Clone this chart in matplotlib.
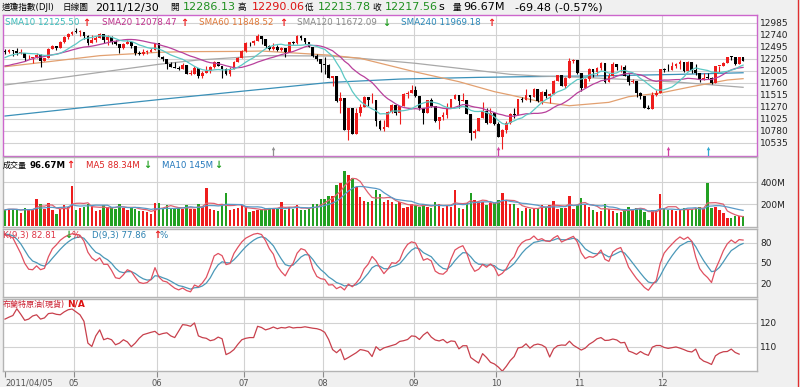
import numpy as np
import pandas as pd
import matplotlib
matplotlib.use("Agg")
import matplotlib.pyplot as plt
from matplotlib.lines import Line2D

plt.rcParams['font.family'] = ['DejaVu Sans', 'Noto Sans CJK TC']

# ---------------- data ----------------
pre_close = [12058, 12066, 12258, 12170, 12090, 12214, 12213, 11984, 12044, 11993, 11855, 11613,
             11775, 11858, 12036, 12018, 12086, 12171, 12221, 12198, 12280, 12350, 12320, 12377, 12400]

close = [
    # Apr
    12393.90, 12426.75, 12409.49, 12380.05, 12381.11, 12263.58, 12270.99, 12285.15, 12341.83, 12201.59,
    12266.75, 12453.54, 12505.99, 12479.88, 12595.37, 12690.96, 12763.31, 12810.54,
    # May
    12807.36, 12807.51, 12723.58, 12584.17, 12638.74, 12684.68, 12760.36, 12630.03, 12695.92, 12595.75,
    12548.37, 12479.58, 12560.18, 12605.32, 12512.04, 12381.26, 12356.21, 12394.66, 12402.76, 12441.58, 12569.79,
    # Jun
    12290.14, 12248.55, 12151.26, 12089.96, 12070.81, 12048.94, 12124.36, 11951.91, 11952.97, 12076.11,
    11897.27, 11961.52, 12004.36, 12080.38, 12190.01, 12109.67, 12050.00, 11934.58, 12043.56, 12188.69,
    12261.42, 12414.34,
    # Jul
    12582.77, 12569.87, 12626.02, 12719.49, 12657.20, 12505.76, 12446.88, 12491.61, 12437.12, 12479.73,
    12385.16, 12587.42, 12571.91, 12724.41, 12681.16, 12592.80, 12501.30, 12302.55, 12240.11, 12143.24,
    # Aug
    12132.49, 11866.62, 11896.44, 11383.68, 11444.61, 10809.85, 11239.77, 10719.94, 11143.31, 11269.02,
    11482.90, 11405.93, 11410.21, 10990.58, 10817.65, 10854.65, 11176.76, 11320.71, 11149.82, 11284.54,
    11539.25, 11559.95, 11613.53,
    # Sep
    11493.57, 11240.26, 11139.30, 11414.86, 11295.81, 10992.13, 11061.12, 11105.85, 11246.73, 11433.18,
    11509.09, 11401.01, 11408.66, 11124.84, 10733.83, 10771.48, 11043.86, 11190.69, 10938.08, 11153.98, 10913.38,
    # Oct
    10655.30, 10808.71, 10939.95, 11123.33, 11103.12, 11433.18, 11416.30, 11518.85, 11478.13, 11644.49,
    11397.00, 11577.05, 11504.62, 11541.78, 11808.79, 11913.62, 11706.62, 11869.04, 12208.55, 12231.11, 11955.01,
    # Nov
    11657.96, 11836.04, 12044.47, 11983.24, 12068.87, 12170.18, 11780.94, 11893.86, 12153.68, 12078.98,
    12096.16, 11905.59, 11770.73, 11796.16, 11547.31, 11493.72, 11257.55, 11231.78, 11523.01, 11555.63, 12045.68,
    # Dec
    12020.03, 12019.42, 12097.83, 12150.13, 12196.37, 11997.70, 12184.26, 12021.39, 11954.94, 11823.48,
    11868.81, 11866.39, 11766.26, 12103.58, 12107.74, 12169.65, 12294.00, 12291.35, 12151.41, 12287.04, 12217.56,
]

high = [
    12450, 12460, 12440, 12470, 12450, 12381, 12330, 12290, 12380, 12342, 12280, 12480, 12530, 12506, 12610, 12710, 12780, 12830,
    12876, 12840, 12810, 12740, 12750, 12720, 12790, 12770, 12730, 12720, 12640, 12550, 12580, 12640, 12605, 12512, 12420, 12450, 12440, 12470, 12580,
    12570, 12320, 12249, 12180, 12180, 12110, 12160, 12124, 12030, 12110, 12076, 12010, 12100, 12100, 12210, 12190, 12110, 12070, 12090, 12200, 12300, 12430,
    12600, 12590, 12640, 12753, 12719, 12657, 12530, 12570, 12540, 12500, 12480, 12600, 12610, 12750, 12740, 12681, 12600, 12501, 12360, 12240,
    12285, 12140, 11910, 11896, 11580, 11450, 11240, 11240, 11240, 11330, 11500, 11483, 11560, 11410, 11000, 11000, 11180, 11330, 11321, 11300, 11550, 11600, 11720,
    11700, 11494, 11240, 11415, 11450, 11296, 11070, 11160, 11350, 11440, 11540, 11509, 11550, 11410, 11125, 10820, 11050, 11370, 11240, 11250, 11154,
    10960, 10820, 10980, 11140, 11240, 11433, 11470, 11630, 11519, 11650, 11644, 11600, 11640, 11560, 11820, 11930, 11914, 11890, 12280, 12250, 12231,
    11955, 11860, 12060, 12044, 12080, 12190, 12170, 11960, 12190, 12154, 12120, 12120, 11940, 11850, 11796, 11580, 11494, 11320, 11580, 11610, 12050,
    12060, 12150, 12190, 12170, 12220, 12196, 12200, 12184, 12140, 11955, 11960, 11970, 11880, 12110, 12110, 12180, 12300, 12320, 12300, 12290, 12290,
]

low = [
    12355, 12380, 12320, 12330, 12355, 12210, 12240, 12170, 12280, 12093, 12200, 12267, 12450, 12440, 12478, 12580, 12660, 12740,
    12780, 12710, 12660, 12530, 12584, 12600, 12685, 12580, 12540, 12560, 12530, 12380, 12460, 12550, 12480, 12330, 12340, 12330, 12350, 12400, 12442,
    12285, 12200, 12050, 12080, 12060, 12020, 12040, 11940, 11930, 11950, 11860, 11860, 11962, 11960, 12070, 12100, 11860, 11920, 11900, 12040, 12180, 12261,
    12400, 12520, 12530, 12626, 12550, 12480, 12430, 12440, 12410, 12420, 12300, 12385, 12550, 12560, 12630, 12560, 12490, 12290, 12200, 11990,
    11940, 11860, 11700, 11380, 11140, 10800, 10604, 10710, 10720, 11080, 11269, 11300, 11350, 10880, 10800, 10780, 10855, 11150, 11100, 10930, 11285, 11450, 11560,
    11480, 11200, 10930, 11139, 11280, 10960, 10820, 11000, 11050, 11247, 11430, 11250, 11390, 11120, 10600, 10640, 10770, 11044, 10930, 10938, 10900,
    10650, 10404, 10740, 10930, 11050, 11103, 11380, 11416, 11370, 11478, 11380, 11340, 11460, 11360, 11542, 11800, 11690, 11660, 11869, 12170, 11950,
    11600, 11658, 11800, 11880, 11920, 12030, 11770, 11781, 11894, 12030, 11990, 11900, 11710, 11760, 11470, 11440, 11250, 11220, 11232, 11490, 11556,
    11980, 12000, 12019, 12070, 12040, 11990, 11998, 11960, 11920, 11790, 11823, 11850, 11735, 11766, 11980, 12100, 12170, 12230, 12130, 12150, 12214,
]

volume = [  # millions
    150, 160, 155, 150, 125, 170, 150, 160, 245, 200, 160, 210, 150, 110, 160, 190, 175, 370,
    150, 165, 180, 205, 190, 140, 150, 190, 175, 180, 160, 200, 170, 150, 180, 160, 140, 140, 130, 110, 210,
    210, 170, 190, 160, 160, 170, 160, 190, 160, 160, 200, 180, 350, 160, 150, 140, 200, 300, 150, 160, 170, 190,
    180, 130, 140, 150, 160, 170, 170, 160, 160, 220, 150, 180, 160, 190, 150, 150, 160, 200, 200, 250,
    250, 280, 280, 380, 390, 500, 470, 440, 360, 270, 230, 220, 230, 330, 290, 220, 240, 220, 200, 220, 170, 180, 200,
    190, 180, 200, 180, 170, 220, 200, 170, 190, 180, 330, 170, 160, 210, 300, 240, 220, 220, 190, 210, 210,
    240, 300, 230, 200, 200, 170, 140, 170, 160, 170, 170, 190, 180, 190, 230, 160, 170, 170, 280, 160, 190,
    260, 190, 180, 150, 130, 140, 200, 160, 140, 120, 130, 160, 180, 150, 170, 160, 130, 60, 150, 140, 290,
    160, 150, 150, 140, 150, 170, 150, 160, 170, 180, 160, 390, 170, 175, 150, 123, 80, 75, 95, 95, 96.67,
]

brent = [
    121.5, 122.3, 123.0, 125.8, 123.5, 121.0, 121.5, 122.8, 123.3, 121.5, 122.0, 123.8, 124.0, 123.5, 123.3, 124.5, 125.4, 125.7,
    124.5, 123.3, 120.6, 111.5, 110.1, 114.5, 117.0, 112.9, 113.5, 112.9, 110.8, 111.5, 112.9, 112.0, 110.0, 111.5, 113.5, 115.0, 115.5, 116.0, 116.4,
    115.0, 115.5, 115.8, 114.5, 113.8, 116.5, 119.2, 119.0, 118.5, 119.9, 114.5, 113.8, 113.5, 112.5, 112.9, 114.0, 113.3, 106.7, 107.5, 108.8, 111.0, 112.9,
    113.5, 113.8, 113.8, 118.5, 118.0, 117.0, 117.5, 118.2, 117.5, 118.0, 117.8, 118.3, 117.8, 118.0, 118.0, 118.3, 118.0, 117.7, 117.5, 117.0,
    116.0, 113.0, 108.8, 107.5, 109.0, 104.6, 105.5, 106.5, 107.5, 108.8, 108.5, 108.0, 105.9, 110.0, 108.5, 109.5, 110.0, 110.5, 111.0, 112.2, 112.5, 113.0, 114.5,
    114.3, 113.0, 114.9, 116.1, 114.0, 112.8, 112.4, 113.0, 111.6, 112.4, 112.2, 109.1, 110.4, 110.4, 105.5, 104.3, 103.2, 107.1, 105.5, 103.5, 102.8,
    101.5, 99.8, 101.8, 104.2, 105.9, 109.5, 109.8, 111.2, 109.4, 110.7, 111.1, 110.7, 109.7, 105.7, 109.1, 110.4, 110.7, 110.6, 112.3, 110.6, 109.6,
    108.6, 109.4, 111.0, 112.0, 113.3, 113.8, 112.6, 112.7, 113.2, 112.8, 111.6, 111.8, 108.2, 107.6, 106.8, 108.0, 107.0, 106.4, 109.8, 110.5, 110.5,
    109.7, 109.3, 109.6, 109.9, 109.4, 108.8, 108.1, 107.8, 109.0, 105.3, 104.0, 103.4, 102.6, 106.2, 107.3, 107.9, 108.0, 109.0, 107.6, 106.9, np.nan,
]

# long moving averages (day index, value)
sma60_i = [0, 11, 24, 39, 46, 60, 65, 82, 90, 104, 115, 124, 128, 136, 143, 153, 158, 166, 174, 183, 187]
sma60_v = [12093, 12195, 12318, 12387, 12400, 12405, 12413, 12330, 12264, 11985, 11787, 11583, 11515,
           11372, 11296, 11365, 11480, 11555, 11685, 11821, 11848.52]
sma120_i = [0, 16, 39, 49, 66, 82, 90, 104, 115, 128, 136, 145, 153, 170, 187]
sma120_v = [11719, 11889, 12142, 12230, 12318, 12311, 12264, 12162, 12060, 11937, 11900, 11880, 11850, 11780, 11672.09]
sma240_i = [0, 20, 40, 66, 82, 100, 120, 132, 150, 170, 187]
sma240_v = [11086, 11260, 11430, 11640, 11770, 11840, 11875, 11889, 11905, 11935, 11969.18]

month_start = [18, 39, 61, 81, 104, 125, 146, 167]
x_labels = ["2011/04/05", "05", "06", "07", "08", "09", "10", "11", "12"]
price_ticks = [10535, 10780, 11025, 11270, 11515, 11760, 12005, 12250, 12495, 12740, 12985]
vol_ticks = [200, 400]
vol_tick_labels = ["200M", "400M"]
kd_ticks = [20, 50, 80]
oil_ticks = [110, 120]
event_idx = [68, 125, 168, 178]
event_col = ['#909090', '#d040a0', '#d040a0', '#30a8d0']

# ---------------- derived indicators ----------------
close = np.array(close, float)
high = np.array(high, float)
low = np.array(low, float)
volume = np.array(volume, float)
brent = np.array(brent, float)
n = len(close)
assert len(high) == n and len(low) == n and len(volume) == n and len(brent) == n
open_ = np.concatenate([[pre_close[-1]], close[:-1]])
all_c = pd.Series(np.concatenate([pre_close, close]))
sma10 = all_c.rolling(10).mean().values[-n:]
sma20 = all_c.rolling(20).mean().values[-n:]
all_h = np.concatenate([pre_close, high])
all_l = np.concatenate([pre_close, low])
Kv, Dv = 50.0, 50.0
Ks, Ds = [], []
for t in range(len(all_c)):
    s = max(0, t - 8)
    hh, ll = all_h[s:t + 1].max(), all_l[s:t + 1].min()
    rsv = (all_c.iloc[t] - ll) / (hh - ll) * 100 if hh > ll else 50
    Kv = Kv * 2 / 3 + rsv / 3
    Dv = Dv * 2 / 3 + Kv / 3
    Ks.append(Kv)
    Ds.append(Dv)
Kline = np.array(Ks)[-n:]
Dline = np.array(Ds)[-n:]
vser = pd.Series(volume)
vma5 = vser.rolling(5, min_periods=1).mean().values
vma10 = vser.rolling(10, min_periods=1).mean().values
idx = np.arange(n)

# ---------------- figure ----------------
W, H = 800, 387
fig = plt.figure(figsize=(8, 3.87), dpi=100)
fig.patch.set_facecolor('#f0f0f0')
GRID = '#d2d2d2'
RED = '#ee1c1c'
GREEN = '#22a022'
grid_x = [m - 0.5 for m in month_start]
X0, X1 = 3, 757
px_per_bar = 3.947
xlo = (X0 - 5) / px_per_bar
xhi = (X1 - 5) / px_per_bar


def panel(y0, y1, edge):
    ax = fig.add_axes([X0 / W, 1 - y1 / H, (X1 - X0) / W, (y1 - y0) / H])
    ax.set_facecolor('white')
    for s in ax.spines.values():
        s.set_color(edge)
        s.set_linewidth(1.0)
    ax.set_xlim(xlo, xhi)
    ax.yaxis.tick_right()
    ax.tick_params(axis='y', length=0, pad=2.3, labelsize=6.5, labelcolor='#222222')
    ax.set_xticks([])
    for g in grid_x:
        ax.axvline(g, color=GRID, lw=0.8, zorder=0)
    ax.grid(axis='y', color=GRID, lw=0.8, zorder=0)
    ax.set_axisbelow(True)
    return ax


def ftext(x, y, s, color='black', size=6.3, weight='normal'):
    fig.text(x / W, 1 - y / H, s, color=color, fontsize=size, fontweight=weight,
             ha='left', va='center')


# ---- price panel ----
axp = panel(15, 155.5, '#cc66cc')
ptop = 12985 + (23 - 15) * 245 / 12
pbot = 12985 - (155.5 - 23) * 245 / 12
axp.set_ylim(pbot, ptop)
axp.set_yticks(price_ticks)
axp.set_yticklabels([str(v) for v in price_ticks])
up = close >= open_
ccol = np.where(up, RED, '#000000')
axp.vlines(idx, low, high, colors=ccol, linewidth=0.8, zorder=3)
body_b = np.minimum(close, open_)
body_h = np.maximum(np.abs(close - open_), 14)
axp.bar(idx, body_h, bottom=body_b, width=0.7, color=ccol, linewidth=0, zorder=4)
axp.plot(sma240_i, sma240_v, color='#3a90b8', lw=0.9, zorder=2)
axp.plot(sma120_i, sma120_v, color='#a8a8a8', lw=0.9, zorder=2)
axp.plot(sma60_i, sma60_v, color='#e2a070', lw=0.9, zorder=2)
axp.plot(idx, sma20, color='#b8409c', lw=0.9, zorder=5)
axp.plot(idx, sma10, color='#5cc8c4', lw=0.9, zorder=5)
tr = axp.get_xaxis_transform()
for ei, ec in zip(event_idx, event_col):
    axp.plot([ei, ei], [0.0, 0.045], color=ec, lw=0.9, transform=tr, zorder=6)
    axp.plot([ei], [0.05], marker='^', ms=2.5, color=ec, transform=tr, zorder=6, mew=0)

# ---- volume panel ----
axv = panel(157, 226.5, '#b4b4b4')
vz = 226.3
axv.set_ylim(-(226.5 - vz) / 22 * 200, (vz - 157) / 22 * 200)
axv.set_yticks(vol_ticks)
axv.set_yticklabels(vol_tick_labels)
vcol = np.where(up, RED, GREEN)
axv.bar(idx, volume, width=0.62, color=vcol, linewidth=0, zorder=3)
axv.plot(idx, vma5, color='#e06070', lw=0.9, zorder=4)
axv.plot(idx, vma10, color='#5a9ac8', lw=0.9, zorder=4)

# ---- KD panel ----
axk = panel(228.5, 296.5, '#b4b4b4')
kpx = (283.3 - 242.7) / 60
axk.set_ylim(20 - (296.5 - 283.3) / kpx, 80 + (242.7 - 228.5) / kpx)
axk.set_yticks(kd_ticks)
axk.set_yticklabels([str(v) for v in kd_ticks])
axk.plot(idx, Dline, color='#4a98b8', lw=0.9, zorder=3)
axk.plot(idx, Kline, color='#e05060', lw=0.9, zorder=4)

# ---- oil panel ----
axo = panel(299, 371, '#b4b4b4')
opx = (346.7 - 322.7) / 10
axo.set_ylim(110 - (371 - 346.7) / opx, 120 + (322.7 - 299) / opx)
axo.set_yticks(oil_ticks)
axo.set_yticklabels([str(v) for v in oil_ticks])
axo.plot(idx, brent, color='#c8404c', lw=0.9, zorder=3)
axo.set_xticks([0] + grid_x)
axo.set_xticklabels(x_labels)
axo.tick_params(axis='x', length=4, width=0.8, color='#8a8a8a', pad=1.5,
                labelsize=6, labelcolor='#555555', labelbottom=True)
axo.get_xticklabels()[0].set_horizontalalignment('left')

# ---- title ----
ty = 7.5
ftext(2, ty, "道瓊指數(DJI)", size=6.2)
ftext(63, ty, "日線圖", size=6.2)
ftext(95, ty, "2011/12/30", size=8)
ftext(170, ty, "開", size=6.2)
ftext(183, ty, "12286.13", color='#1f8f1f', size=8)
ftext(238, ty, "高", size=6.2)
ftext(252, ty, "12290.06", color='#dd1111', size=8)
ftext(305, ty, "低", size=6.2)
ftext(318, ty, "12213.78", color='#1f8f1f', size=8)
ftext(372, ty, "收", size=6.2)
ftext(385, ty, "12217.56", color='#1f8f1f', size=8)
ftext(438, ty, "s", size=8)
ftext(453, ty, "量", size=6.2)
ftext(463, ty, "96.67M", size=8)
ftext(515, ty, "-69.48 (-0.57%)", size=8)

# ---- MA legend ----
ly = 22.5
ftext(5, ly, "SMA10 12125.50", color='#3cbcbc')
ftext(82, ly, "↑", color=RED, size=7, weight='bold')
ftext(102, ly, "SMA20 12078.47", color='#c0308e')
ftext(180, ly, "↑", color=RED, size=7, weight='bold')
ftext(199, ly, "SMA60 11848.52", color='#e07838')
ftext(279, ly, "↑", color=RED, size=7, weight='bold')
ftext(297, ly, "SMA120 11672.09", color='#888888')
ftext(382, ly, "↓", color=GREEN, size=7, weight='bold')
ftext(401, ly, "SMA240 11969.18", color='#2a88b8')
ftext(487, ly, "↑", color=RED, size=7, weight='bold')

# ---- volume legend ----
vy = 165
ftext(3, vy, "成交量", size=5.8)
ftext(30, vy, "96.67M", size=6.2, weight='bold')
ftext(66, vy, "↑", color=RED, size=7, weight='bold')
ftext(86, vy, "MA5 88.34M", color='#dd2222', size=6.2)
ftext(143, vy, "↓", color=GREEN, size=7, weight='bold')
ftext(162, vy, "MA10 145M", color='#2277bb', size=6.2)
ftext(214, vy, "↓", color=GREEN, size=7, weight='bold')

# ---- KD legend ----
ky = 235
ftext(3, ky, "K(9,3) 82.81", color='#dd3344', size=6.2)
ftext(64, ky, "↓", color=GREEN, size=7, weight='bold')
ftext(71, ky, "%", color='#dd3344', size=6.2)
ftext(92, ky, "D(9,3) 77.86", color='#2a80b0', size=6.2)
ftext(153, ky, "↑", color=RED, size=7, weight='bold')
ftext(160, ky, "%", color='#2a80b0', size=6.2)

# ---- oil legend ----
oy = 304
ftext(3, oy, "布蘭特原油(現貨)", color='#cc2233', size=5.8)
ftext(67, oy, "N/A", color='#dd1111', size=6.5, weight='bold')

# right red border line
fig.add_artist(Line2D([797.5 / W, 797.5 / W], [0, 1], color='#e03030', lw=1.0))

fig.savefig('out.png', dpi=100, facecolor=fig.get_facecolor())
